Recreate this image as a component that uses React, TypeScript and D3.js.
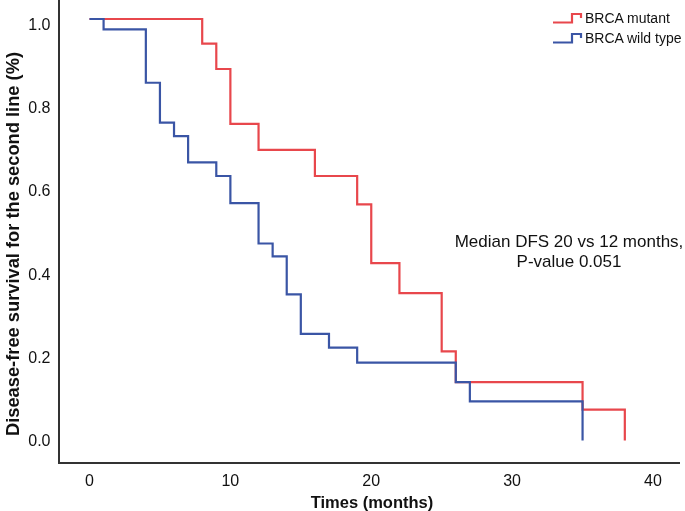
import React, { useRef, useEffect } from 'react';
import * as d3 from 'd3';

// Kaplan-Meier steps: [time (months), survival]
const mutantTimes = [0, 8, 9, 10, 12, 16, 19, 20, 22, 25, 26, 35, 38];
const mutantSurv = [1.012, 0.953, 0.892, 0.76, 0.698, 0.635, 0.567, 0.426, 0.354, 0.214, 0.14, 0.074, 0];

const wildTimes = [0, 1, 4, 5, 6, 7, 9, 10, 12, 13, 14, 15, 17, 19, 26, 27, 35];
const wildSurv = [1.012, 0.987, 0.859, 0.763, 0.731, 0.668, 0.635, 0.57, 0.473, 0.442, 0.351, 0.256, 0.223, 0.187, 0.14, 0.094, 0];

const xTicks = [0, 10, 20, 30, 40];
const yTicks = [0, 0.2, 0.4, 0.6, 0.8, 1.0];

const seriesNames = ['BRCA mutant', 'BRCA wild type'];
const seriesColors = ['#e8474c', '#3a55a5'];

const FONT = '"Liberation Sans", Arial, sans-serif';

const KMChart = ({ width = 685, height = 511 }) => {
  const svgRef = useRef<SVGSVGElement | null>(null);

  useEffect(() => {
    if (!svgRef.current) return;
    document.body.style.margin = '0';
    document.body.style.overflow = 'hidden';
    const svg = d3.select(svgRef.current);
    svg.selectAll('*').remove();

    const axisX = 59;
    const axisY = 463;

    const xScale = d3.scaleLinear().domain([0, 40]).range([89.5, 653]);
    const yScale = d3.scaleLinear().domain([0, 1]).range([440.5, 24]);

    const line = d3.line<[number, number]>()
      .x(d => xScale(d[0]))
      .y(d => yScale(d[1]))
      .curve(d3.curveStepAfter);

    const series = [
      { name: seriesNames[0], color: seriesColors[0], times: mutantTimes, surv: mutantSurv },
      { name: seriesNames[1], color: seriesColors[1], times: wildTimes, surv: wildSurv },
    ];

    // curves
    series.forEach(s => {
      const pts: [number, number][] = s.times.map((t, i) => [t, s.surv[i]]);
      svg.append('path')
        .datum(pts)
        .attr('fill', 'none')
        .attr('stroke', s.color)
        .attr('stroke-width', 2.2)
        .attr('d', line);
    });

    // axes lines
    svg.append('line')
      .attr('x1', axisX).attr('x2', axisX)
      .attr('y1', 0).attr('y2', axisY + 1)
      .attr('stroke', '#333').attr('stroke-width', 2);
    svg.append('line')
      .attr('x1', axisX - 1).attr('x2', 680)
      .attr('y1', axisY).attr('y2', axisY)
      .attr('stroke', '#333').attr('stroke-width', 2);

    // tick labels
    svg.selectAll('.xt')
      .data(xTicks)
      .enter()
      .append('text')
      .attr('x', d => xScale(d))
      .attr('y', 480)
      .attr('dy', '0.35em')
      .attr('text-anchor', 'middle')
      .attr('font-family', FONT)
      .attr('font-size', 16)
      .attr('fill', '#111')
      .text(d => String(d));

    svg.selectAll('.yt')
      .data(yTicks)
      .enter()
      .append('text')
      .attr('x', 50.5)
      .attr('y', d => yScale(d))
      .attr('dy', '0.35em')
      .attr('text-anchor', 'end')
      .attr('font-family', FONT)
      .attr('font-size', 16)
      .attr('fill', '#111')
      .text(d => d3.format('.1f')(d));

    // axis titles
    svg.append('text')
      .attr('x', 372)
      .attr('y', 502)
      .attr('dy', '0.35em')
      .attr('text-anchor', 'middle')
      .attr('font-family', FONT)
      .attr('font-size', 16.5)
      .attr('font-weight', 'bold')
      .attr('fill', '#111')
      .text('Times (months)');

    svg.append('text')
      .attr('transform', 'translate(13, 244) rotate(-90)')
      .attr('dy', '0.35em')
      .attr('text-anchor', 'middle')
      .attr('font-family', FONT)
      .attr('font-size', 18.3)
      .attr('font-weight', 'bold')
      .attr('fill', '#111')
      .text('Disease-free survival for the second line (%)');

    // annotation
    const note = svg.append('text')
      .attr('text-anchor', 'middle')
      .attr('font-family', FONT)
      .attr('font-size', 17)
      .attr('fill', '#111');
    note.append('tspan').attr('x', 569).attr('y', 241).attr('dy', '0.35em')
      .text('Median DFS 20 vs 12 months,');
    note.append('tspan').attr('x', 569).attr('y', 261).attr('dy', '0.35em')
      .text('P-value 0.051');

    // legend
    series.forEach((s, i) => {
      const cy = 18 + i * 20;
      svg.append('path')
        .attr('d', `M553,${cy + 4.5} H572 V${cy - 4} H581 V${cy}`)
        .attr('fill', 'none')
        .attr('stroke', s.color)
        .attr('stroke-width', 2.2);
      svg.append('text')
        .attr('x', 585)
        .attr('y', cy)
        .attr('dy', '0.35em')
        .attr('font-family', FONT)
        .attr('font-size', 14)
        .attr('fill', '#111')
        .text(s.name);
    });
  }, [width, height]);

  return (
    <svg
      ref={svgRef}
      width={width}
      height={height}
      style={{ display: 'block', position: 'fixed', left: 0, top: 0 }}
    />
  );
};

export default function App() {
  return <KMChart />;
}
